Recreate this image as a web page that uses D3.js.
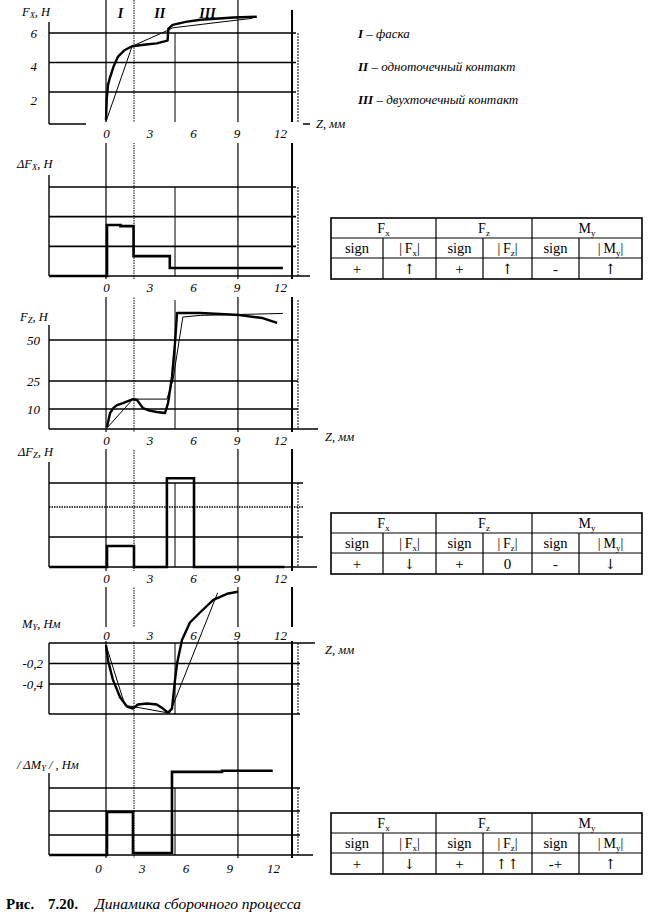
<!DOCTYPE html>
<html lang="ru">
<head>
<meta charset="UTF-8" />
<title>Рис. 7.20. Динамика сборочного процесса</title>
<script src="https://d3js.org/d3.v7.min.js"></script>
<style>
  body { margin: 0; background: #fff; }
  svg text { font-family: "Liberation Serif", "DejaVu Serif", serif; fill: #000; }
</style>
</head>
<body>
<div id="chart"></div>
<script>
// ---- values (z in mm) ----
var zTicks = [0, 3, 6, 9, 12];
var zGuidesLong = [0, 1.93, 9.1, 12.83];   // guides that run through the whole figure
var zGuidesShort = [4.76, 13.24];          // guides drawn inside each panel only

var stages = ["I", "II", "III"];
var stageZ = [1, 3.7, 7];
var stageNames = ["фаска", "одноточечный контакт", "двухточечный контакт"];

// Fx, Н
var fxTicks = [2, 4, 6];
var fxMeasured = [[0, 0.1], [0.05, 1.5], [0.14, 2.5], [0.28, 3.0], [0.55, 3.8], [0.83, 4.4], [1.3, 4.85],
  [1.8, 5.1], [2.6, 5.2], [3.5, 5.3], [4.1, 5.45], [4.25, 5.5], [4.3, 6.3], [4.6, 6.55], [5.5, 6.75],
  [6.5, 6.9], [8.8, 7.05], [10.4, 7.1]];
var fxApprox = [[0, 0], [1.8, 5.1], [4.3, 6.2], [4.6, 6.35], [10.1, 7.0]];

// dFx (no scale on the scan, grid = 1, 2, 3)
var gridLevels = [1, 2, 3];
var dFxSteps = [[-3.93, 0], [0.07, 1.72], [1.0, 1.68], [1.9, 0.67], [4.4, 0.27], [12.2, 0.27]];

// Fz, Н
var fzTicks = [10, 25, 50];
var fzMeasured = [[0.07, 1], [0.28, 8], [0.5, 10.5], [0.76, 12.1], [1.17, 13.2], [1.86, 15.3], [2.14, 14.8],
  [2.4, 12], [2.55, 10.5], [3.0, 9.2], [3.5, 8.5], [4.07, 8], [4.28, 13.2], [4.55, 27.4], [4.76, 48.2],
  [4.9, 66.5], [6.5, 66.5], [9.2, 65.2], [10.8, 63.4], [11.8, 60.4]];
var fzApprox = [[0, 0], [1.86, 15.3], [4.2, 15.3], [4.62, 25.7], [5.3, 64], [6.5, 65], [12.2, 66.2]];

// dFz
var dFzSteps = [[-3.93, 0], [0.07, 0.7], [1.93, 0], [4.2, 3.2], [6.07, 0], [12.3, 0]];

// My, Нм
var myTicks = [-0.2, -0.4];
var myMeasured = [[0, -0.02], [0.14, -0.17], [0.48, -0.36], [0.97, -0.53], [1.45, -0.62], [1.86, -0.64],
  [2.2, -0.6], [2.83, -0.59], [3.5, -0.6], [3.93, -0.64], [4.28, -0.68], [4.55, -0.64], [4.76, -0.36],
  [4.9, -0.2], [5.24, 0.03], [5.79, 0.2], [6.5, 0.3], [7.4, 0.42], [8.35, 0.48], [9.1, 0.5]];
var myApprox = [[0, -0.02], [1.31, -0.61], [1.86, -0.62], [4.2, -0.68], [4.41, -0.68], [7.7, 0.49]];

// |dMy|
var dMySteps = [[-3.93, 0], [0.07, 1.96], [1.86, 0.1], [4.55, 3.7], [8.0, 3.75], [11.5, 3.75]];

// tables
var tableHeads = [["F", "x"], ["F", "z"], ["M", "y"]];
var table1 = ["+", "↑", "+", "↑", "-", "↑"];
var table2 = ["+", "↓", "+", "0", "-", "↓"];
var table3 = ["+", "↓", "+", "↑↑", "-+", "↑"];

// ---- drawing ----
var svg = d3.select("#chart").append("svg")
  .attr("width", 652)
  .attr("height", 912);

var x = d3.scaleLinear().domain([0, 12]).range([106, 280]);
var xBottomLabels = d3.scaleLinear().domain([0, 12]).range([98, 273]); // last panel labels are shifted on the scan
var X0 = 49;

var gGuides = svg.append("g");
var gGrid = svg.append("g");
var gBands = svg.append("g");
var gMarks = svg.append("g");
var gText = svg.append("g");

function seg(g, x1, y1, x2, y2, w, dash) {
  return g.append("line")
    .attr("x1", x1).attr("y1", y1).attr("x2", x2).attr("y2", y2)
    .attr("stroke", "#000")
    .attr("stroke-width", w)
    .attr("stroke-dasharray", dash || null);
}

// long guides
var longStyle = [[1.2, null, 0], [1, "1.5,1", 0], [1.2, null, 0], [2, null, 10]];
zGuidesLong.forEach(function(z, i) {
  seg(gGuides, x(z), longStyle[i][2], x(z), 858, longStyle[i][0], longStyle[i][1]);
});

function curve(data, y, w) {
  gMarks.append("path")
    .datum(data)
    .attr("fill", "none")
    .attr("stroke", "#000")
    .attr("stroke-width", w)
    .attr("stroke-linejoin", "round")
    .attr("d", d3.line().x(function(d) { return x(d[0]); }).y(function(d) { return y(d[1]); }));
}

function steps(data, y) {
  gMarks.append("path")
    .datum(data)
    .attr("fill", "none")
    .attr("stroke", "#000")
    .attr("stroke-width", 2.6)
    .attr("d", d3.line().curve(d3.curveStepAfter)
      .x(function(d) { return x(d[0]); })
      .y(function(d) { return y(d[1]); }));
}

function zLabels(yc, bandTop, bandBottom, scale, x1, x2) {
  gBands.append("rect")
    .attr("x", x1).attr("y", bandTop)
    .attr("width", x2 - x1).attr("height", bandBottom - bandTop)
    .attr("fill", "#fff");
  var ax = gBands.append("g")
    .attr("transform", "translate(0," + yc + ")")
    .call(d3.axisBottom(scale).tickValues(zTicks).tickSize(0).tickPadding(0).tickFormat(String));
  ax.select(".domain").remove();
  ax.selectAll("text")
    .attr("dy", "0.35em")
    .style("font-size", "13px")
    .style("font-style", "italic");
}

function yLabels(scale, ticks, pad, fmt) {
  var ax = gText.append("g")
    .attr("transform", "translate(" + X0 + ",0)")
    .call(d3.axisLeft(scale).tickValues(ticks).tickSize(0).tickPadding(pad).tickFormat(fmt || String));
  ax.select(".domain").remove();
  ax.selectAll("text")
    .style("font-size", "13px")
    .style("font-style", "italic");
}

function axisTitle(xp, yp, parts) {
  var t = gText.append("text")
    .attr("x", xp).attr("y", yp)
    .style("font-size", "12.5px")
    .style("font-style", "italic");
  parts.forEach(function(p) {
    var s = t.append("tspan").text(p[0]);
    if (p[1] === "sub") s.style("font-size", "8.5px").attr("dy", 2);
    if (p[1] === "up") s.attr("dy", -2);
  });
}

function panel(o) {
  // y axis line, grid, base line, short guides
  seg(gGrid, X0, o.top, X0, o.base, 1.4);
  o.grid.forEach(function(v, i) {
    seg(gGrid, X0, o.y(v), o.gridRight, o.y(v), 1.6, o.dash && o.dash[i] ? "1.5,1" : null);
  });
  seg(gGrid, X0, o.base, o.baseRight, o.base, 1.4);
  if (o.extraLine) seg(gGrid, X0, o.extraLine, o.gridRight, o.extraLine, 1.6);
  zGuidesShort.forEach(function(z, i) {
    seg(gGuides, x(z), o.shortTop, x(z), o.shortBottom, 1, i === 0 ? null : "2,1");
  });
}

// panel 1: Fx
var yFx = d3.scaleLinear().domain([0, 6]).range([121.5, 33]);
var yFxLabels = d3.scaleLinear().domain([2, 6]).range([100, 33]);
panel({ y: yFx, grid: fxTicks, top: 22, base: 124, gridRight: 296, baseRight: 310, shortTop: 33, shortBottom: 124 });
zLabels(133, 122, 143, x, 86, 303);
yLabels(yFxLabels, fxTicks, 12);
curve(fxApprox, yFx, 1);
curve(fxMeasured, yFx, 2.4);
axisTitle(22, 16, [["F"], ["X", "sub"], [", Н", "up"]]);
stages.forEach(function(s, i) {
  gText.append("text")
    .attr("x", x(stageZ[i])).attr("y", 18)
    .attr("text-anchor", "middle")
    .style("font-size", "14px")
    .style("font-style", "italic")
    .style("font-weight", "bold")
    .text(s);
});
gText.append("text").attr("x", 316).attr("y", 128)
  .style("font-size", "12.5px").style("font-style", "italic").text("Z, мм");

// panel 2: dFx
var yDFx = d3.scaleLinear().domain([0, 3]).range([276, 187]);
panel({ y: yDFx, grid: gridLevels, top: 175, base: 276, gridRight: 296, baseRight: 310, shortTop: 187, shortBottom: 276 });
zLabels(287, 279, 297, x, 86, 303);
steps(dFxSteps, yDFx);
axisTitle(17, 168, [["ΔF"], ["X", "sub"], [", Н", "up"]]);

// panel 3: Fz (the scan's axis is not linear)
var yFz = d3.scaleLinear().domain([0, 10, 25, 50]).range([429, 409, 381, 340]);
panel({ y: yFz, grid: fzTicks, top: 325, base: 429, gridRight: 298, baseRight: 318, shortTop: 300, shortBottom: 429 });
zLabels(440, 432, 449, x, 86, 303);
yLabels(yFz, fzTicks, 9);
curve(fzApprox, yFz, 1);
curve(fzMeasured, yFz, 2.4);
axisTitle(20, 321, [["F"], ["Z", "sub"], [", Н", "up"]]);
gText.append("text").attr("x", 325).attr("y", 441)
  .style("font-size", "12.5px").style("font-style", "italic").text("Z, мм");

// panel 4: dFz
var yDFz = d3.scaleLinear().domain([0, 1, 2, 3]).range([567, 537, 507, 483]);
panel({ y: yDFz, grid: gridLevels, dash: [false, true, false], top: 462, base: 567, gridRight: 303, baseRight: 317, shortTop: 483, shortBottom: 567 });
zLabels(578, 571, 587, x, 83, 300);
steps(dFzSteps, yDFz);
axisTitle(18, 456, [["ΔF"], ["Z", "sub"], [", Н", "up"]]);

// panel 5: My
var yMy = d3.scaleLinear().domain([-0.4, 0]).range([684, 643]);
panel({ y: yMy, grid: myTicks, top: 643, base: 643, gridRight: 300, baseRight: 315, extraLine: 714, shortTop: 643, shortBottom: 714 });
seg(gGrid, X0, 643, X0, 714, 1.4);
zLabels(635, 627, 641, x, 86, 303);
yLabels(yMy, myTicks, 6, function(d) { return String(d).replace(".", ","); });
curve(myApprox, yMy, 1);
curve(myMeasured, yMy, 2.4);
axisTitle(22, 628, [["M"], ["Y", "sub"], [", Нм", "up"]]);
gText.append("text").attr("x", 325).attr("y", 654)
  .style("font-size", "12.5px").style("font-style", "italic").text("Z, мм");

// panel 6: |dMy|
var yDMy = d3.scaleLinear().domain([0, 1, 2, 3]).range([855, 835, 811, 788]);
panel({ y: yDMy, grid: gridLevels, top: 773, base: 855, gridRight: 300, baseRight: 313, shortTop: 788, shortBottom: 855 });
zLabels(868, 860, 877, xBottomLabels, 78, 292);
steps(dMySteps, yDMy);
axisTitle(17, 769, [["/ ΔM"], ["Y", "sub"], [" / , Нм", "up"]]);

// legend of stages
stages.forEach(function(s, i) {
  var t = gText.append("text")
    .attr("x", 358).attr("y", 38 + i * 33)
    .style("font-size", "13px")
    .style("font-style", "italic");
  t.append("tspan").style("font-weight", "bold").text(s);
  t.append("tspan").text(" – " + stageNames[i]);
});

// sign tables
var colX = [331, 383, 436, 483, 532, 579, 642];
function table(top, signs) {
  var g = svg.append("g");
  var rowY = [top, top + 20, top + 40, top + 61];
  g.append("rect")
    .attr("x", colX[0]).attr("y", rowY[0])
    .attr("width", colX[6] - colX[0]).attr("height", rowY[3] - rowY[0])
    .attr("fill", "none").attr("stroke", "#000").attr("stroke-width", 1.6);
  seg(g, colX[0], rowY[1], colX[6], rowY[1], 1.2);
  seg(g, colX[0], rowY[2], colX[6], rowY[2], 1.2);
  [2, 4].forEach(function(c) { seg(g, colX[c], rowY[0], colX[c], rowY[3], 1.2); });
  [1, 3, 5].forEach(function(c) { seg(g, colX[c], rowY[1], colX[c], rowY[3], 1.2); });

  tableHeads.forEach(function(h, i) {
    var t = g.append("text")
      .attr("x", (colX[2 * i] + colX[2 * i + 2]) / 2)
      .attr("y", rowY[0] + 15)
      .attr("text-anchor", "middle")
      .style("font-size", "14px");
    t.append("tspan").text(h[0]);
    t.append("tspan").text(h[1]).style("font-size", "9px").attr("dy", 3);

    g.append("text")
      .attr("x", (colX[2 * i] + colX[2 * i + 1]) / 2)
      .attr("y", rowY[1] + 15)
      .attr("text-anchor", "middle")
      .style("font-size", "14.5px")
      .text("sign");

    var m = g.append("text")
      .attr("x", (colX[2 * i + 1] + colX[2 * i + 2]) / 2)
      .attr("y", rowY[1] + 15)
      .attr("text-anchor", "middle")
      .style("font-size", "14px");
    m.append("tspan").text("|\u2009" + h[0]);
    m.append("tspan").text(h[1]).style("font-size", "9px").attr("dy", 3);
    m.append("tspan").text("|").attr("dy", -3);
  });

  signs.forEach(function(s, c) {
    var arrow = /[↑↓]/.test(s);
    g.append("text")
      .attr("x", (colX[c] + colX[c + 1]) / 2)
      .attr("y", rowY[2] + 16)
      .attr("text-anchor", "middle")
      .attr("fill", "#000")
      .style("font-family", arrow ? "'DejaVu Serif', serif" : null)
      .style("font-size", arrow ? "14px" : "15px")
      .text(arrow ? s.replace(/([↑↓])/g, "$1\uFE0E") : s);
  });
}
table(218, table1);
table(513, table2);
table(813, table3);

// caption
svg.append("text").attr("x", 6).attr("y", 909)
  .style("font-size", "15px").style("font-weight", "bold").text("Рис.");
svg.append("text").attr("x", 48).attr("y", 909)
  .style("font-size", "15px").style("font-weight", "bold").text("7.20.");
svg.append("text").attr("x", 95).attr("y", 909)
  .style("font-size", "15.5px").style("font-style", "italic").text("Динамика сборочного процесса");
</script>
</body>
</html>
